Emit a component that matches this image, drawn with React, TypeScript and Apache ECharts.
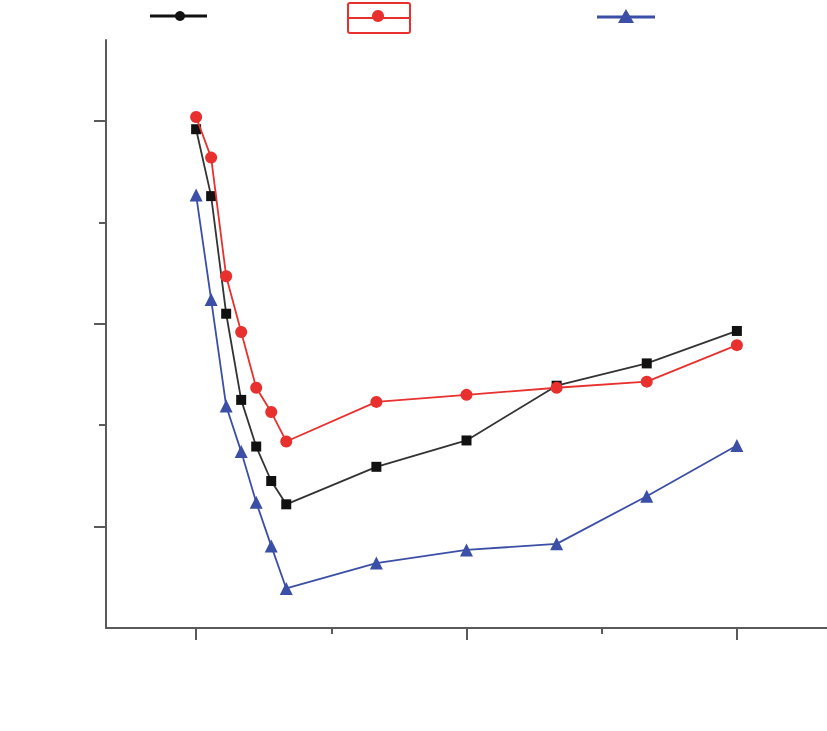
import React, { useEffect, useRef } from 'react';
import * as echarts from 'echarts';

const xValues = [0, 1, 2, 3, 4, 5, 6, 12, 18, 24, 30, 36];
const seriesBlack = [4.92, 4.26, 3.1, 2.25, 1.79, 1.45, 1.22, 1.59, 1.85, 2.39, 2.61, 2.93];
const seriesRed = [5.04, 4.64, 3.47, 2.92, 2.37, 2.13, 1.84, 2.23, 2.3, 2.37, 2.43, 2.79];
const seriesBlue = [4.27, 3.24, 2.19, 1.74, 1.24, 0.81, 0.39, 0.64, 0.77, 0.83, 1.3, 1.8];
const xMajorTicks = [0, 18, 36];
const xMinorTicks = [9, 27];
const yMajorTicks = [1, 3, 5];
const yMinorTicks = [2, 4];

const AXIS_COLOR = '#5a5a5a';
const BLACK = '#111111';
const RED = '#e8302e';
const BLUE = '#3b4fa6';

function pairs(ys: number[]) {
  return xValues.map((x, i) => [x, ys[i]]);
}

export default function App() {
  const ref = useRef<HTMLDivElement>(null);
  useEffect(() => {
    if (!ref.current) return;
    const chart = echarts.init(ref.current, undefined, { renderer: 'svg' });
    const xBase = {
      type: 'value',
      min: -6,
      max: 42,
      position: 'bottom',
      axisLabel: { show: false },
      splitLine: { show: false },
    };
    const yBase = {
      type: 'value',
      min: 0,
      max: 5.8,
      position: 'left',
      axisLabel: { show: false },
      splitLine: { show: false },
    };
    chart.setOption({
      animation: false,
      backgroundColor: '#ffffff',
      grid: { left: 106, right: 0, top: 40, bottom: 103, containLabel: false },
      xAxis: [
        {
          ...xBase,
          axisLine: { show: true, onZero: false, lineStyle: { color: AXIS_COLOR, width: 2 } },
          axisTick: { show: true, customValues: xMajorTicks, length: 12, lineStyle: { color: AXIS_COLOR, width: 2 } },
        },
        {
          ...xBase,
          axisLine: { show: false, onZero: false },
          axisTick: { show: true, customValues: xMinorTicks, length: 6, lineStyle: { color: AXIS_COLOR, width: 2 } },
        },
      ],
      yAxis: [
        {
          ...yBase,
          axisLine: { show: true, onZero: false, lineStyle: { color: AXIS_COLOR, width: 2 } },
          axisTick: { show: true, customValues: yMajorTicks, length: 12, lineStyle: { color: AXIS_COLOR, width: 2 } },
        },
        {
          ...yBase,
          axisLine: { show: false, onZero: false },
          axisTick: { show: true, customValues: yMinorTicks, length: 7, lineStyle: { color: AXIS_COLOR, width: 2 } },
        },
      ],
      series: [
        {
          type: 'line',
          data: pairs(seriesBlack),
          symbol: 'rect',
          symbolSize: 10,
          itemStyle: { color: BLACK },
          lineStyle: { color: '#333333', width: 1.8 },
          z: 2,
        },
        {
          type: 'line',
          data: pairs(seriesRed),
          symbol: 'circle',
          symbolSize: 12,
          itemStyle: { color: RED },
          lineStyle: { color: RED, width: 1.8 },
          z: 3,
        },
        {
          type: 'line',
          data: pairs(seriesBlue),
          symbol: 'triangle',
          symbolSize: 13,
          itemStyle: { color: BLUE },
          lineStyle: { color: BLUE, width: 1.8 },
          z: 4,
        },
      ],
      graphic: [
        { type: 'line', shape: { x1: 150, y1: 16, x2: 207, y2: 16 }, style: { stroke: BLACK, lineWidth: 3 } },
        { type: 'circle', shape: { cx: 180, cy: 16, r: 5 }, style: { fill: BLACK } },
        { type: 'rect', shape: { x: 348, y: 3, width: 62, height: 30, r: 2 }, style: { fill: 'none', stroke: RED, lineWidth: 2 } },
        { type: 'line', shape: { x1: 348, y1: 18, x2: 410, y2: 18 }, style: { stroke: RED, lineWidth: 2 } },
        { type: 'circle', shape: { cx: 378, cy: 16, r: 6 }, style: { fill: RED } },
        { type: 'line', shape: { x1: 597, y1: 17, x2: 655, y2: 17 }, style: { stroke: BLUE, lineWidth: 3 } },
        { type: 'polygon', shape: { points: [[618, 23], [626, 9], [634, 23]] }, style: { fill: BLUE } },
      ],
    });
    return () => chart.dispose();
  }, []);
  return (
    <div
      ref={ref}
      style={{ position: 'fixed', left: 0, top: 0, width: 827, height: 731, background: '#fff' }}
    />
  );
}
